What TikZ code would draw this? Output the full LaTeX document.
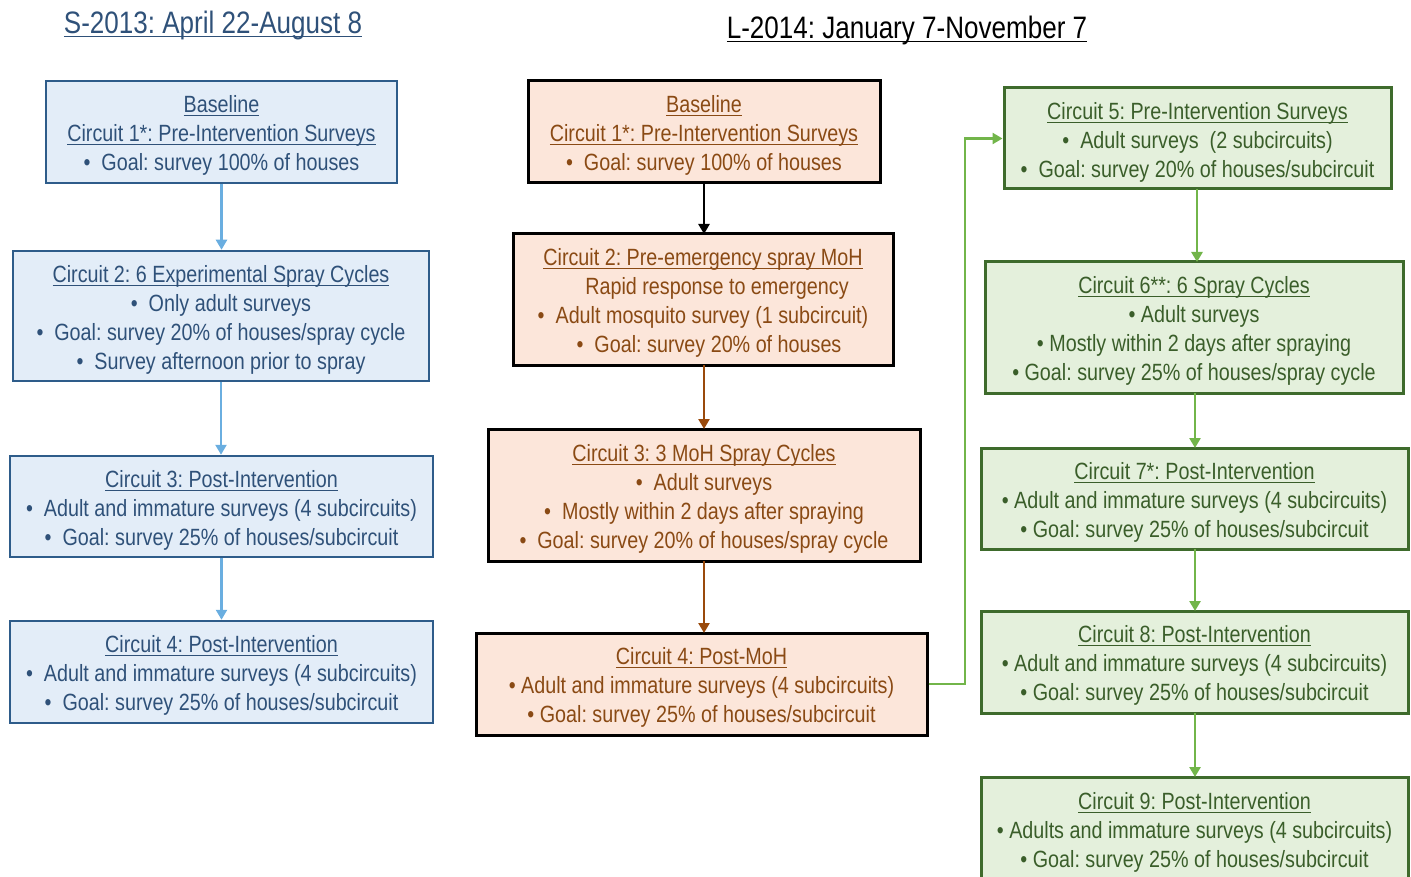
\documentclass[tikz,border=0pt]{standalone}
\usepackage{fontspec}
\setmainfont{Liberation Sans}[FakeStretch=0.84]
\newsavebox{\ulxbox}
\newcommand{\ulx}[1]{\leavevmode\sbox{\ulxbox}{#1}\rlap{\raisebox{-3.9pt}[0pt][0pt]{\rule{\wd\ulxbox}{1.1pt}}}\usebox{\ulxbox}}
\frenchspacing
\usetikzlibrary{arrows.meta}
\definecolor{bluefill}{HTML}{E3EDF8}
\definecolor{blueborder}{HTML}{2E5C8A}
\definecolor{bluetext}{HTML}{2F5179}
\definecolor{bluearrow}{HTML}{6AAEE0}
\definecolor{orangefill}{HTML}{FCE6DA}
\definecolor{orangetext}{HTML}{8A4A14}
\definecolor{brownarrow}{HTML}{9A4A0C}
\definecolor{greenfill}{HTML}{E4F0DC}
\definecolor{greenborder}{HTML}{3E6B2C}
\definecolor{greentext}{HTML}{3A5E2A}
\definecolor{greenarrow}{HTML}{72B54A}
\tikzset{
  boxbase/.style={rectangle, inner sep=0pt},
  txt/.style={align=center, inner sep=0pt, yshift=-3.5pt, font=\fontsize{23.5}{29}\selectfont},
  bluebox/.style={boxbase, draw=blueborder, fill=bluefill, line width=2.5pt},
  orangebox/.style={boxbase, draw=black, fill=orangefill, line width=3pt},
  greenbox/.style={boxbase, draw=greenborder, fill=greenfill, line width=3pt},
  bluetxt/.style={txt, text=bluetext},
  orangetxt/.style={txt, text=orangetext},
  greentxt/.style={txt, text=greentext},
  tip/.style={-{Triangle[width=11pt,length=10pt]}},
  bluearr/.style={tip, draw=bluearrow, line width=2.8pt},
  blackarr/.style={tip, draw=black, line width=2.8pt},
  brownarr/.style={tip, draw=brownarrow, line width=2.8pt},
  greenarr/.style={tip, draw=greenarrow, line width=2.8pt},
  titletext/.style={font=\fontsize{31}{36}\selectfont, inner sep=0pt}
}
\begin{document}
\begin{tikzpicture}[x=1pt,y=-1pt]
\useasboundingbox (0,0) rectangle (1411,877);
\clip (0,0) rectangle (1411,877);
% titles
\node[titletext, text=bluetext] (t1) at (213,25) {\ulx{S-2013: April 22-August 8}};
\node[titletext, text=black] (t2) at (907,30) {\ulx{L-2014: January 7-November 7}};
% left column
\node[bluebox, minimum width=351pt, minimum height=102pt] (b1) at (221.5,132) {};
\node[bluetxt] (b1t) at (b1.center) {\ulx{Baseline}\\ \ulx{Circuit 1*: Pre-Intervention Surveys}\\ •\ \ Goal: survey 100\% of houses};
\node[bluebox, minimum width=416pt, minimum height=130pt] (b2) at (221,316) {};
\node[bluetxt] (b2t) at (b2.center) {\ulx{Circuit 2: 6 Experimental Spray Cycles}\\ •\ \ Only adult surveys\\ •\ \ Goal: survey 20\% of houses/spray cycle\\ •\ \ Survey afternoon prior to spray};
\node[bluebox, minimum width=423pt, minimum height=101pt] (b3) at (221.5,506.5) {};
\node[bluetxt] (b3t) at (b3.center) {\ulx{Circuit 3: Post-Intervention}\\ •\ \ Adult and immature surveys (4 subcircuits)\\ •\ \ Goal: survey 25\% of houses/subcircuit};
\node[bluebox, minimum width=423pt, minimum height=102pt] (b4) at (221.5,672) {};
\node[bluetxt] (b4t) at (b4.center) {\ulx{Circuit 4: Post-Intervention}\\ •\ \ Adult and immature surveys (4 subcircuits)\\ •\ \ Goal: survey 25\% of houses/subcircuit};
\draw[bluearr] (b1.south) -- (b1.south |- b2.north);
\draw[bluearr] (b2.south) -- (b2.south |- b3.north);
\draw[bluearr] (b3.south) -- (b3.south |- b4.north);
% middle column
\node[orangebox, minimum width=352pt, minimum height=102pt] (o1) at (704,132) {};
\node[orangetxt] (o1t) at (o1.center) {\ulx{Baseline}\\ \ulx{Circuit 1*: Pre-Intervention Surveys}\\ •\ \ Goal: survey 100\% of houses};
\node[orangebox, minimum width=380pt, minimum height=131pt] (o2) at (703,299.5) {};
\node[orangetxt] (o2t) at (o2.center) {\ulx{Circuit 2: Pre-emergency spray MoH}\\ \hspace*{28pt}Rapid response to emergency\\ •\ \ Adult mosquito survey (1 subcircuit)\\ \hspace*{12pt}•\ \ Goal: survey 20\% of houses};
\node[orangebox, minimum width=432pt, minimum height=132pt] (o3) at (704,495) {};
\node[orangetxt] (o3t) at (o3.center) {\ulx{Circuit 3: 3 MoH Spray Cycles}\\ •\ \ Adult surveys\\ •\ \ Mostly within 2 days after spraying\\ •\ \ Goal: survey 20\% of houses/spray cycle};
\node[orangebox, minimum width=451pt, minimum height=102pt] (o4) at (701.5,684) {};
\node[orangetxt] (o4t) at (o4.center) {\ulx{Circuit 4: Post-MoH}\\ • Adult and immature surveys (4 subcircuits)\\ • Goal: survey 25\% of houses/subcircuit};
\draw[blackarr] (704,183) -- (704,234);
\draw[brownarr] (704,365) -- (704,429);
\draw[brownarr] (704,561) -- (704,633);
% right column
\node[greenbox, minimum width=387pt, minimum height=101pt] (g1) at (1197.5,138.5) {};
\node[greentxt] (g1t) at (g1.center) {\ulx{Circuit 5: Pre-Intervention Surveys}\\ •\ \ Adult surveys\ \ (2 subcircuits)\\ •\ \ Goal: survey 20\% of houses/subcircuit};
\node[greenbox, minimum width=418pt, minimum height=131pt] (g2) at (1194,327.5) {};
\node[greentxt] (g2t) at (g2.center) {\ulx{Circuit 6**: 6 Spray Cycles}\\ • Adult surveys\\ • Mostly within 2 days after spraying\\ • Goal: survey 25\% of houses/spray cycle};
\node[greenbox, minimum width=427pt, minimum height=101pt] (g3) at (1194.5,498.5) {};
\node[greentxt] (g3t) at (g3.center) {\ulx{Circuit 7*: Post-Intervention}\\ • Adult and immature surveys (4 subcircuits)\\ • Goal: survey 25\% of houses/subcircuit};
\node[greenbox, minimum width=427pt, minimum height=102pt] (g4) at (1194.5,662) {};
\node[greentxt] (g4t) at (g4.center) {\ulx{Circuit 8: Post-Intervention}\\ • Adult and immature surveys (4 subcircuits)\\ • Goal: survey 25\% of houses/subcircuit};
\node[greenbox, minimum width=427pt, minimum height=126pt] (g5) at (1194.5,840) {};
\node[greentxt] (g5t) at (1194.5,828.5) {\ulx{Circuit 9: Post-Intervention}\\ • Adults and immature surveys (4 subcircuits)\\ • Goal: survey 25\% of houses/subcircuit};
\draw[greenarr] (1197,189) -- (1197,262);
\draw[greenarr] (1195,393) -- (1195,448);
\draw[greenarr] (1195,549) -- (1195,611);
\draw[greenarr] (1195,713) -- (1195,777);
\draw[greenarr] (o4.east) -- (965,684) |- (g1.west);
\end{tikzpicture}
\end{document}
